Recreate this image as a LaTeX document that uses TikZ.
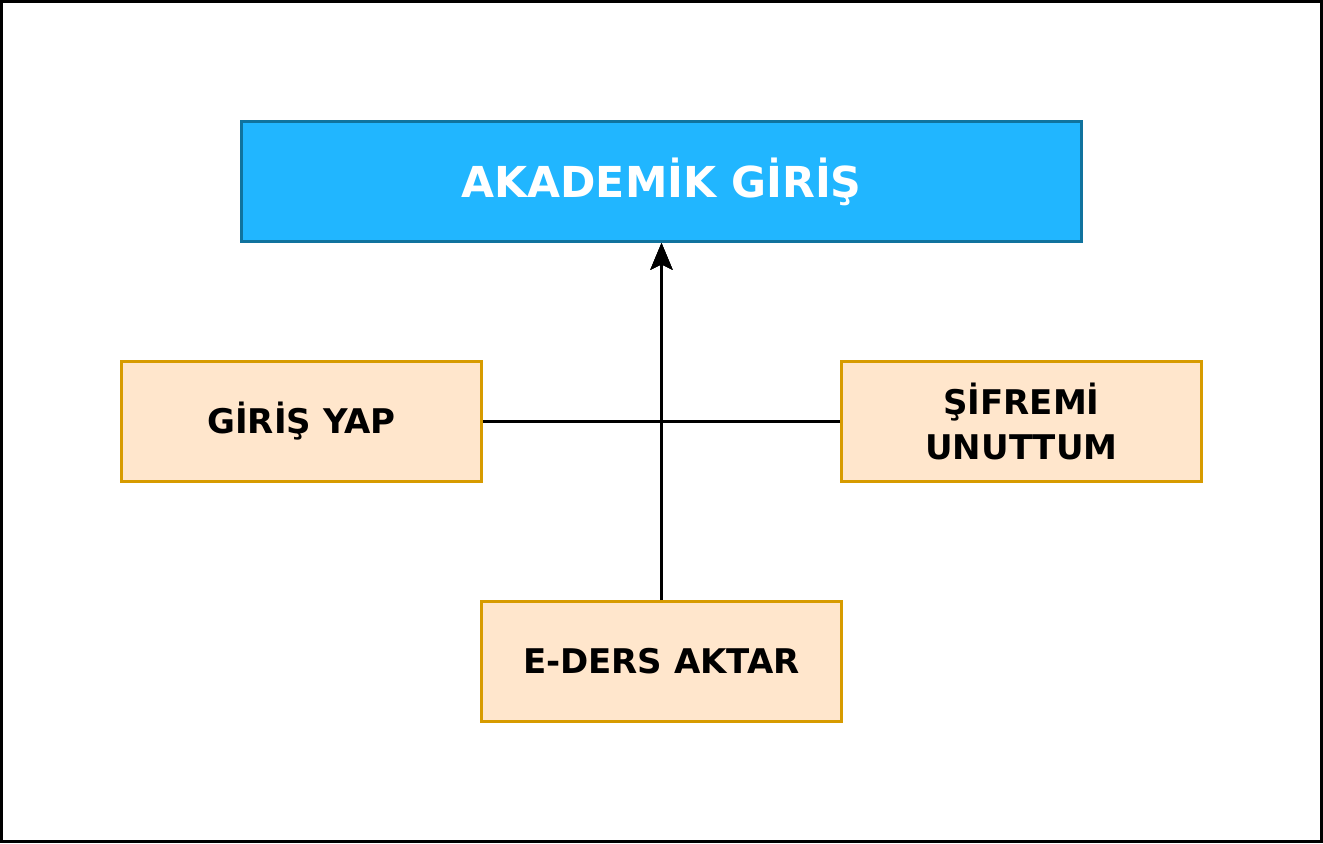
\documentclass[tikz,border=0pt]{standalone}
\usepackage{fontspec}
\setmainfont{DejaVu Sans}
\usetikzlibrary{arrows.meta}
\definecolor{topfill}{HTML}{21B6FF}
\definecolor{topdraw}{HTML}{10739E}
\definecolor{orfill}{HTML}{FFE6CC}
\definecolor{ordraw}{HTML}{D79B00}
\begin{document}
\begin{tikzpicture}[x=0.75pt,y=-0.75pt,
  topbox/.style={rectangle,draw=topdraw,fill=topfill,line width=2.25pt,
    minimum width=630pt,minimum height=90pt,inner sep=0pt,text=white,
    font=\bfseries\fontsize{32}{40}\selectfont},
  subbox/.style={rectangle,draw=ordraw,fill=orfill,line width=2.25pt,
    minimum width=270pt,minimum height=90pt,inner sep=0pt,align=center,text=black,
    font=\bfseries\fontsize{25.5}{33.7}\selectfont},
  conn/.style={draw=black,line width=2.25pt},
  arr/.style={conn,-{Stealth[length=20pt,width=16.5pt,inset=4pt]}}]
\useasboundingbox (0,0) rectangle (1323,843);
\draw[line width=2.25pt] (1.5,1.5) rectangle (1321.5,841.5);
\node[topbox] (top) at (661.5,181.5) {AKADEMİK GİRİŞ};
\node[subbox] (left) at (301.5,421.5) {GİRİŞ YAP};
\node[subbox] (right) at (1021.5,421.5) {ŞİFREMİ\\UNUTTUM};
\node[subbox] (bottom) at (661.5,661.5) {E-DERS AKTAR};
\draw[arr] (left.east) -| (top.south);
\draw[arr] (right.west) -| (top.south);
\draw[arr] (bottom.north) -- (top.south);
\end{tikzpicture}
\end{document}
